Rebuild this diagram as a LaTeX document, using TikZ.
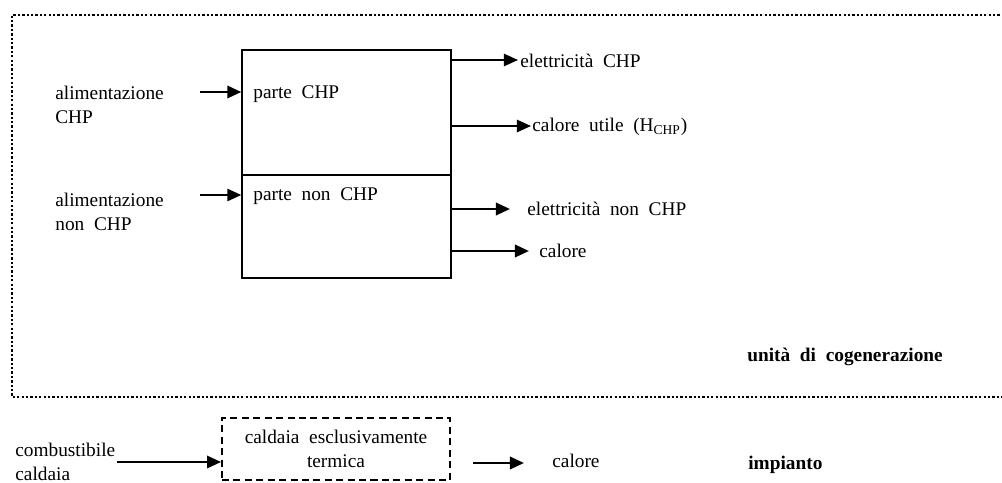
\documentclass[tikz,border=0pt]{standalone}
\usepackage{fontspec}
\setmainfont{Liberation Serif}
\usetikzlibrary{arrows.meta}
\tikzset{
  lbl/.style={anchor=west, inner sep=0pt, font=\fontsize{11}{13.6}\selectfont, align=left},
  blbl/.style={lbl, font=\fontsize{11}{13.6}\selectfont\bfseries},
  part/.style={draw, line width=0.8pt, minimum width=4.18cm, inner sep=0pt},
  arr/.style={line width=1.5pt, -{Triangle[length=8pt,width=7pt]}},
  thinarr/.style={line width=1.1pt, -{Triangle[length=8pt,width=7pt]}},
  outline/.style={line width=1.6pt, dash pattern=on 1.3pt off 1.2pt},
  dbox/.style={draw, line width=1.1pt, dash pattern=on 4pt off 2.5pt, minimum width=4.56cm, minimum height=1.24cm, align=center, font=\fontsize{11}{13.6}\selectfont, inner sep=0pt}
}
\begin{document}
\begin{tikzpicture}[x=0.02cm,y=-0.02cm]
\useasboundingbox (0,0) rectangle (1002,483);
% outer dotted frame (cogeneration unit)
\coordinate (f1) at (1004,15);
\coordinate (f2) at (12,15);
\coordinate (f3) at (12,397);
\coordinate (f4) at (1004,397);
\draw[outline] (f1) -- (f2) -- (f3) -- (f4);
% main box
\node[part, minimum height=2.5cm] (top) at (346.5,112.5) {};
\node[part, minimum height=2.06cm] (bot) at (346.5,226.5) {};
\node[lbl] (ptop) at (253,94) {parte\ \ CHP};
\node[lbl] (pbot) at (253,196) {parte\ \ non\ \ CHP};
% inputs
\node[lbl, anchor=north west] (in1) at (55,86) {alimentazione\\CHP};
\node[lbl, anchor=north west] (in2) at (55,193) {alimentazione\\non\ \ CHP};
\coordinate (a1) at (200,92);
\coordinate (a2) at (200,195);
\draw[arr] (a1) -- (a1 -| top.west);
\draw[thinarr] (a2) -- (a2 -| bot.west);
% outputs
\node[lbl] (o1) at (520,61) {elettricità\ \ CHP};
\node[lbl] (o2) at (532,127) {calore\ \ utile\ \ (H\textsubscript{CHP})};
\node[lbl] (o3) at (527,209) {elettricità\ \ non\ \ CHP};
\node[lbl] (o4) at (539,251) {calore};
\coordinate (t1) at (518,60);
\coordinate (t2) at (531,126);
\coordinate (t3) at (510,209);
\coordinate (t4) at (529,251);
\draw[thinarr] (t1 -| top.east) -- (t1);
\draw[thinarr] (t2 -| top.east) -- (t2);
\draw[arr] (t3 -| bot.east) -- (t3);
\draw[arr] (t4 -| bot.east) -- (t4);
\node[blbl] (unit) at (747,357) {unità\ \ di\ \ cogenerazione};
% boiler
\node[dbox] (cald) at (336,449) {caldaia\ \ esclusivamente\\termica};
\node[lbl, anchor=north west] (comb) at (15,443) {combustibile\\caldaia};
\coordinate (c1) at (117,462);
\draw[arr] (c1) -- (c1 -| cald.west);
\coordinate (c2) at (473,463);
\coordinate (c3) at (524,463);
\node[lbl] (cal) at (552,461) {calore};
\draw[arr] (c2) -- (c3);
\node[blbl] (imp) at (748,465) {impianto};
\end{tikzpicture}
\end{document}
